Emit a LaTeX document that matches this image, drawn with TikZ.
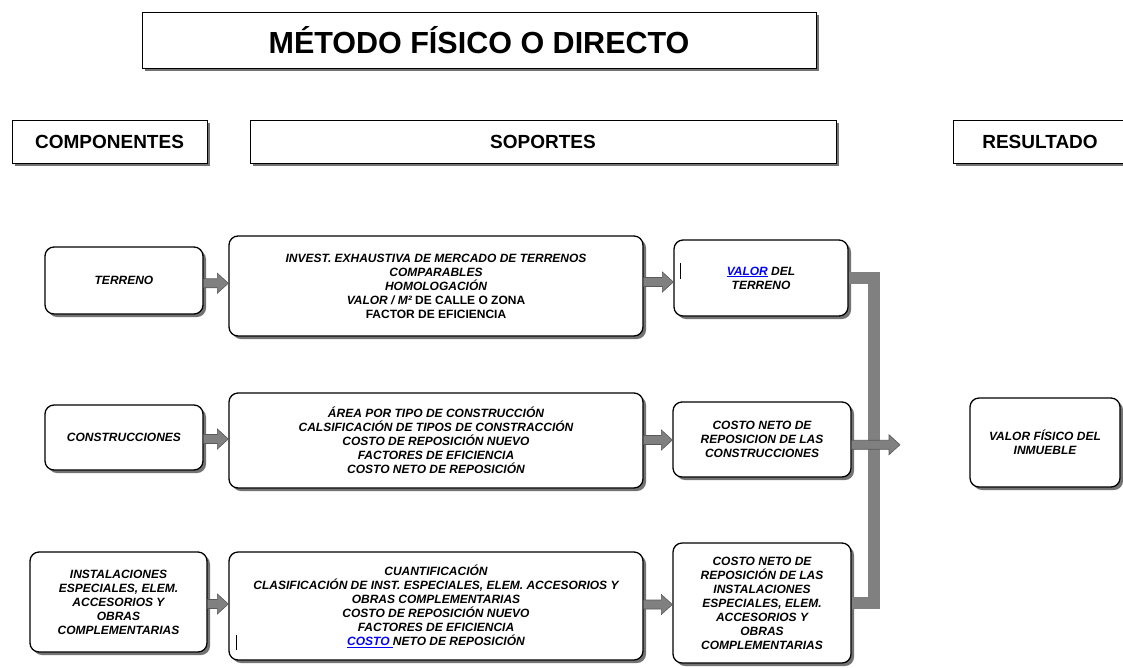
\documentclass[tikz,border=0pt]{standalone}
\usepackage{fontspec}
\setmainfont{Liberation Sans}
\usetikzlibrary{shadows,calc}
\tikzset{
  shd/.style={drop shadow={shadow xshift=3pt,shadow yshift=-3pt,fill=black!55,opacity=1}},
  hdr/.style={draw=black, line width=1pt, fill=white, shd, inner sep=0pt,
    font=\fontsize{19}{22}\selectfont\bfseries},
  rbox/.style={draw=black, line width=1.3pt, rounded corners=9pt, fill=white, shd,
    align=center, inner sep=0pt, font=\fontsize{12}{14}\selectfont\bfseries\itshape},
  barrow/.style={fill=gray, draw=black!65, line width=0.6pt},
  bracket/.style={draw=gray, line width=12pt, line join=miter},
  cursor/.style={draw=black, line width=0.8pt}
}
\newcommand\blockarrow[2]{%
  \draw[barrow] let \p1=(#1), \p2=(#2), \p3=($(#1)!0.5!(#2)$) in
   (\x1,\y3+4.5pt) -- (\x2-11pt,\y3+4.5pt) -- (\x2-11pt,\y3+10pt) -- (\x2,\y3)
   -- (\x2-11pt,\y3-10pt) -- (\x2-11pt,\y3-4.5pt) -- (\x1,\y3-4.5pt) -- cycle;}
\begin{document}
\begin{tikzpicture}[x=1pt,y=-1pt]
\useasboundingbox (0,0) rectangle (1123,667);
% headers
\node[hdr, minimum width=674, minimum height=56, font=\fontsize{30.5}{33}\selectfont\bfseries] (title) at (479,40) {MÉTODO FÍSICO O DIRECTO};
\node[hdr, minimum width=195, minimum height=43] (comp) at (109.5,141.5) {COMPONENTES};
\node[hdr, minimum width=586, minimum height=43] (sop) at (543,141.5) {SOPORTES};
\node[hdr, minimum width=174, minimum height=43] (res) at (1040,141.5) {RESULTADO};
% row 1
\node[rbox, minimum width=158, minimum height=67] (terreno) at (124,280.5) {TERRENO};
\node[rbox, minimum width=414, minimum height=100] (s1) at (436,286) {INVEST. EXHAUSTIVA DE MERCADO DE TERRENOS\\COMPARABLES\\HOMOLOGACIÓN\\\textit{VALOR / M²} \upshape DE CALLE O ZONA\\\upshape FACTOR DE EFICIENCIA};
\node[rbox, minimum width=174, minimum height=76] (valor) at (761,278) {\textcolor{blue}{\underline{VALOR}} DEL\\TERRENO};
% row 2
\node[rbox, minimum width=158, minimum height=65] (constr) at (124,437.5) {CONSTRUCCIONES};
\node[rbox, minimum width=414, minimum height=95] (s2) at (436,440.5) {ÁREA POR TIPO DE CONSTRUCCIÓN\\CALSIFICACIÓN DE TIPOS DE CONSTRACCIÓN\\COSTO DE REPOSICIÓN NUEVO\\FACTORES DE EFICIENCIA\\COSTO NETO DE REPOSICIÓN};
\node[rbox, minimum width=178, minimum height=75] (costo2) at (762,439.5) {COSTO NETO DE\\REPOSICION DE LAS\\CONSTRUCCIONES};
% row 3
\node[rbox, minimum width=177, minimum height=100] (inst) at (118.5,602) {INSTALACIONES\\ESPECIALES, ELEM.\\ACCESORIOS Y\\OBRAS\\COMPLEMENTARIAS};
\node[rbox, minimum width=414, minimum height=108] (s3) at (436,606) {CUANTIFICACIÓN\\CLASIFICACIÓN DE INST. ESPECIALES, ELEM. ACCESORIOS Y\\OBRAS COMPLEMENTARIAS\\COSTO DE REPOSICIÓN NUEVO\\FACTORES DE EFICIENCIA\\\textcolor{blue}{\underline{COSTO\ }}NETO DE REPOSICIÓN};
\node[rbox, minimum width=178, minimum height=120] (costo3) at (762,603) {COSTO NETO DE\\REPOSICIÓN DE LAS\\INSTALACIONES\\ESPECIALES, ELEM.\\ACCESORIOS Y\\OBRAS\\COMPLEMENTARIAS};
% result
\node[rbox, minimum width=150, minimum height=89] (result) at (1045,442.5) {VALOR FÍSICO DEL\\INMUEBLE};
% cursor marks
\draw[cursor] (680,263) -- (680,279);
\draw[cursor] (236,635) -- (236,650);
% connectors
\blockarrow{terreno.east}{s1.west}
\blockarrow{constr.east}{s2.west}
\blockarrow{inst.east}{s3.west}
\blockarrow{s1.east}{valor.west}
\blockarrow{s2.east}{costo2.west}
\blockarrow{s3.east}{costo3.west}
\coordinate (bar) at (874,0);
\coordinate (resin) at (900,450);
\draw[bracket] (valor.east) -- (valor.east -| bar) -- (costo3.east -| bar) -- (costo3.east);
\blockarrow{costo2.east}{resin}
\end{tikzpicture}
\end{document}
